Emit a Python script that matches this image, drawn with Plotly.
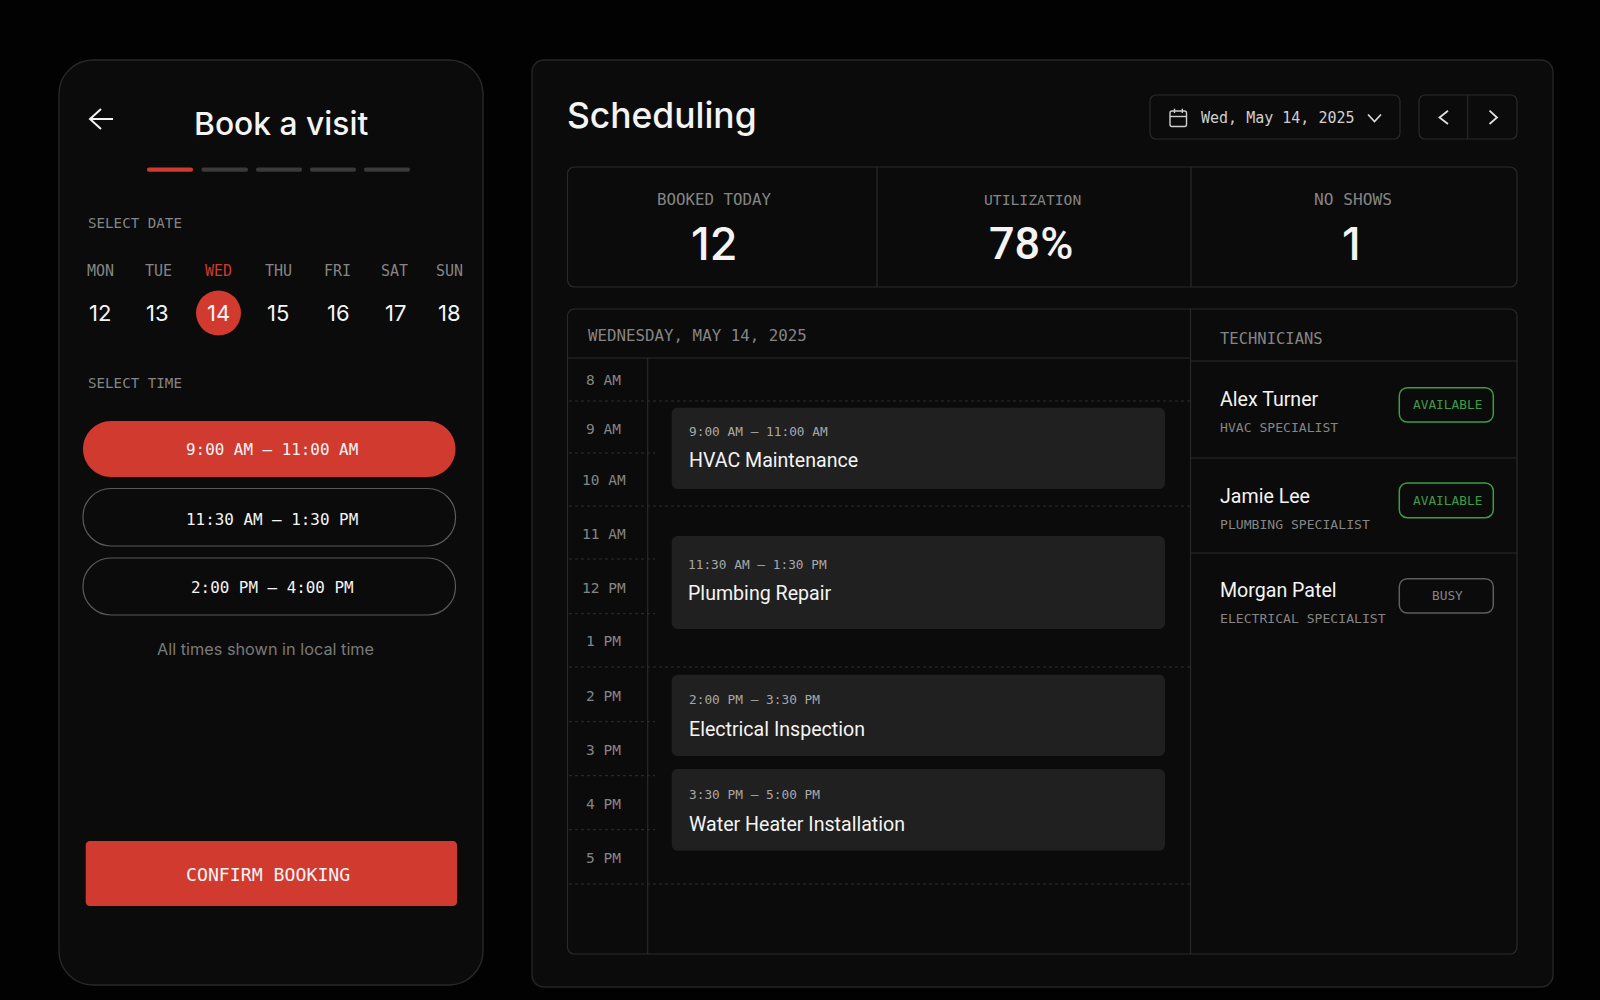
import plotly.graph_objects as go

# ---------- content ----------
DAY_NAMES = ["MON", "TUE", "WED", "THU", "FRI", "SAT", "SUN"]
DAY_NUMBERS = ["12", "13", "14", "15", "16", "17", "18"]
SLOTS = ["9:00 AM – 11:00 AM", "11:30 AM – 1:30 PM", "2:00 PM – 4:00 PM"]
STAT_LABELS = ["BOOKED TODAY", "UTILIZATION", "NO SHOWS"]
STAT_VALUES = ["12", "78%", "1"]
HOURS = ["8 AM", "9 AM", "10 AM", "11 AM", "12 PM", "1 PM", "2 PM", "3 PM", "4 PM", "5 PM"]
EVENT_TIMES = ["9:00 AM – 11:00 AM", "11:30 AM – 1:30 PM", "2:00 PM – 3:30 PM", "3:30 PM – 5:00 PM"]
EVENT_TITLES = ["HVAC Maintenance", "Plumbing Repair", "Electrical Inspection", "Water Heater Installation"]
TECH_NAMES = ["Alex Turner", "Jamie Lee", "Morgan Patel"]
TECH_ROLES = ["HVAC SPECIALIST", "PLUMBING SPECIALIST", "ELECTRICAL SPECIALIST"]
TECH_STATUS = ["AVAILABLE", "AVAILABLE", "BUSY"]

# ---------- style ----------
SANS, MONO, NARROW = "Inter", "DejaVu Sans Mono", "Roboto"
BG, PANEL = "#020202", "#0b0b0b"
LINE, DASH = "#2a2a2a", "#2e2e2e"
RED, CARD = "#d13a2f", "#202020"
GREEN, WHITE = "#3f9c45", "#f4f4f4"
GREY, GREY2 = "#858585", "#7a7a7a"

shapes, notes = [], []
K = 0.4477


def rr(x0, y0, x1, y1, r, fill=None, stroke=None, w=1.2):
    c = r * K
    p = (f"M{x0+r},{y0} L{x1-r},{y0} C{x1-c},{y0} {x1},{y0+c} {x1},{y0+r} L{x1},{y1-r} "
         f"C{x1},{y1-c} {x1-c},{y1} {x1-r},{y1} L{x0+r},{y1} C{x0+c},{y1} {x0},{y1-c} {x0},{y1-r} "
         f"L{x0},{y0+r} C{x0},{y0+c} {x0+c},{y0} {x0+r},{y0} Z")
    shapes.append(dict(type="path", path=p, xref="x", yref="y", fillcolor=fill or "rgba(0,0,0,0)",
                       line=dict(color=stroke or "rgba(0,0,0,0)", width=w if stroke else 0)))


def ln(x0, y0, x1, y1, color=LINE, w=1.2, dash="solid"):
    shapes.append(dict(type="line", x0=x0, y0=y0, x1=x1, y1=y1, xref="x", yref="y",
                       line=dict(color=color, width=w, dash=dash)))


def poly(points, color=WHITE, w=2):
    p = "M" + " L".join(f"{a},{b}" for a, b in points)
    shapes.append(dict(type="path", path=p, xref="x", yref="y", line=dict(color=color, width=w)))


def tx(text, x, y, size, color=WHITE, font=MONO, anchor="center", weight=400):
    if anchor == "left":
        x -= 2.5
    notes.append(dict(text=text, x=x, y=y, xref="x", yref="y", showarrow=False, xanchor=anchor,
                      yanchor="middle", font=dict(family=font, size=size, color=color, weight=weight)))


# ---------- phone ----------
rr(59, 60, 483, 985, 34, PANEL, "#282828", 1.4)
poly([(113, 119), (90, 119)], WHITE, 2)
poly([(101, 109), (90, 119), (101, 129)], WHITE, 2)
tx("Book a visit", 281, 123, 31.8, WHITE, SANS, weight=500)
for i, (a, b) in enumerate([(147, 193), (201.5, 248), (256, 302), (310, 356), (364, 410)]):
    rr(a, 167.5, b, 171.7, 2, RED if i == 0 else "#3a3a3a")
tx("SELECT DATE", 88, 223, 14.2, GREY, anchor="left")
tx("SELECT TIME", 88, 383, 14.2, GREY, anchor="left")
shapes.append(dict(type="circle", x0=196, y0=290.5, x1=241, y1=335.5, xref="x", yref="y",
                   fillcolor=RED, line=dict(width=0)))
DAY_X = [100.5, 158, 218, 278.5, 337.5, 394.5, 449]
NUM_X = [100, 157.5, 218, 278, 338, 395, 449]
for i, name in enumerate(DAY_NAMES):
    tx(name, DAY_X[i], 271, 15, RED if i == 2 else GREY)
    tx(DAY_NUMBERS[i], NUM_X[i], 313, 22, WHITE, SANS)
rr(83, 421, 455.5, 477, 28, RED)
rr(83, 488.5, 455.5, 546, 28, None, "#5a5a5a", 1.2)
rr(83, 558, 455.5, 615, 28, None, "#5a5a5a", 1.2)
for s, y in zip(SLOTS, [449, 519, 587]):
    tx(s, 272, y, 15.9, WHITE)
tx("All times shown in local time", 265, 649, 16.3, GREY2, SANS)
rr(85.7, 841, 457, 906, 4, RED)
tx("CONFIRM BOOKING", 268, 874.5, 18.2, WHITE)

# ---------- desktop panel ----------
rr(532, 60, 1553, 987, 12, PANEL, "#262626", 1.4)
tx("Scheduling", 567.5, 115, 35.4, WHITE, SANS, "left", 500)
rr(1150, 95, 1400, 139, 6, None, LINE)
rr(1170, 111, 1186.5, 126.5, 2, None, "#cfcfcf", 1.4)
ln(1170, 116.5, 1186.5, 116.5, "#cfcfcf", 1.4)
ln(1174.5, 108.7, 1174.5, 113, "#cfcfcf", 1.4)
ln(1182.3, 108.7, 1182.3, 113, "#cfcfcf", 1.4)
tx("Wed, May 14, 2025", 1201.5, 118, 15, "#d0d0d0", anchor="left")
poly([(1368, 114.5), (1374.5, 121.5), (1381, 114.5)], "#e0e0e0", 1.6)
rr(1419, 95, 1517, 139, 6, None, LINE)
ln(1467.7, 95, 1467.7, 139)
poly([(1448, 110.7), (1439.5, 117.5), (1448, 124)], "#e0e0e0", 1.8)
poly([(1489.5, 110.7), (1497, 117.5), (1489.5, 124)], "#e0e0e0", 1.8)

# stats
rr(567.5, 167, 1517, 287, 7, None, LINE)
ln(877, 167, 877, 287)
ln(1191, 167, 1191, 287)
STAT_LX = [714, 1032, 1353]
STAT_VX = [714, 1031, 1351]
STAT_LS = [15.8, 14.7, 16.2]
for i in range(3):
    tx(STAT_LABELS[i], STAT_LX[i], 199.5, STAT_LS[i], GREY)
    tx(STAT_VALUES[i], STAT_VX[i], 243.5, 45, WHITE, NARROW if i == 1 else SANS, weight=500)

# schedule
rr(567.5, 309, 1517, 954, 7, None, LINE)
ln(1190.5, 309, 1190.5, 954)
ln(647.7, 358, 647.7, 954)
ln(567.5, 358, 1190.5, 358)
tx("WEDNESDAY, MAY 14, 2025", 588, 335, 15.8, GREY, anchor="left")
HOUR_Y = [380, 429, 480, 534, 588, 641, 696, 750, 804, 858]
for h, y in zip(HOURS, HOUR_Y):
    tx(h, 603.5, y, 14.5, GREY)
for y in [401, 506, 667, 884]:
    ln(569, y, 1190, y, DASH, 1, "3px,3px")
for y in [453, 559, 613.7, 721.7, 775.7, 829.7]:
    ln(569, y, 655, y, DASH, 1, "3px,3px")
CARDS_Y = [(407.7, 489), (536, 629), (674.7, 756), (769, 850.7)]
EV_X = [689.5, 688, 689.5, 689.5]
EV_TIME_Y = [431, 564, 699.7, 794]
EV_TITLE_Y = [460, 593.5, 729.5, 824.5]
for i, (a, b) in enumerate(CARDS_Y):
    rr(671.7, a, 1165, b, 6, CARD)
    tx(EVENT_TIMES[i], EV_X[i], EV_TIME_Y[i], 12.8, "#a8a8a8", anchor="left")
    tx(EVENT_TITLES[i], EV_X[i], EV_TITLE_Y[i], 19.6, WHITE, NARROW, "left", 400)

# technicians
tx("TECHNICIANS", 1220, 339, 15.5, GREY, anchor="left")
for y in [361, 458, 553]:
    ln(1190.5, y, 1517, y)
NAME_Y = [399.3, 496.7, 590]
ROLE_Y = [427.3, 524.3, 618.7]
BADGE_Y = [(387.7, 422), (483, 517.7), (578.7, 613)]
for i in range(3):
    tx(TECH_NAMES[i], 1220, NAME_Y[i], 19.6, WHITE, NARROW, "left", 400)
    tx(TECH_ROLES[i], 1220, ROLE_Y[i], 13.1, GREY, anchor="left")
    on = TECH_STATUS[i] == "AVAILABLE"
    rr(1399.3, BADGE_Y[i][0], 1493.3, BADGE_Y[i][1], 8, None, GREEN if on else "#5e5e5e", 1.5)
    tx(TECH_STATUS[i], 1447, sum(BADGE_Y[i]) / 2, 12.8, GREEN if on else GREY)

fig = go.Figure()
fig.update_layout(
    width=1600, height=1000, margin=dict(l=0, r=0, t=0, b=0),
    paper_bgcolor=BG, plot_bgcolor=BG, showlegend=False,
    xaxis=dict(range=[0, 1600], visible=False, fixedrange=True),
    yaxis=dict(range=[1000, 0], visible=False, fixedrange=True),
    shapes=shapes, annotations=notes,
)
fig.write_html("out.html", config={"displayModeBar": False},
               post_script="document.body.style.margin='0';document.body.style.background='#020202';")
